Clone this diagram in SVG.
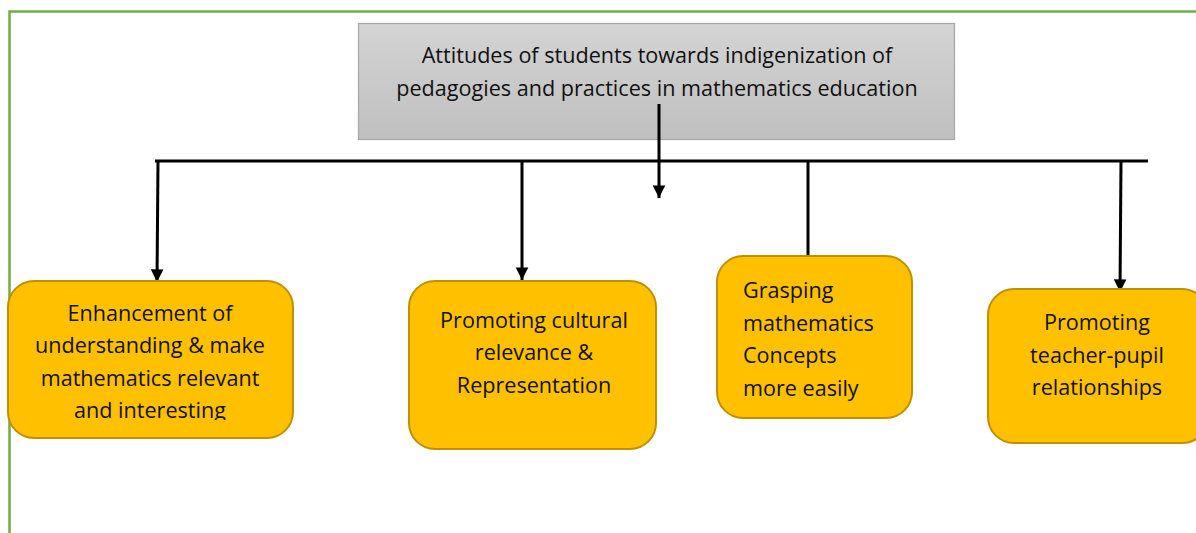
<svg xmlns="http://www.w3.org/2000/svg" width="1196" height="533" viewBox="0 0 1196 533">
  <defs>
    <linearGradient id="grayFill" x1="0" y1="0" x2="0" y2="1">
      <stop offset="0" stop-color="#D4D4D4"/>
      <stop offset="1" stop-color="#BFBFBF"/>
    </linearGradient>
    <marker id="arrow" viewBox="0 0 10 10" refX="10" refY="5" markerWidth="4.2" markerHeight="4.4" orient="auto" markerUnits="strokeWidth">
      <path d="M0,0 L10,5 L0,10 z" fill="#000"/>
    </marker>
    <clipPath id="clip1">
      <rect x="8" y="281" width="286" height="139"/>
    </clipPath>
  </defs>
  <style>
    .frame { fill: none; stroke: #70AD47; stroke-width: 2.5; }
    .box { fill: #FFC000; stroke: #BF9000; stroke-width: 2; }
    .title { fill: url(#grayFill); stroke: #A6A6A6; stroke-width: 1.2; }
    .t { font-family: "Open Sans", "Liberation Sans", sans-serif; font-size: 21.6px; fill: #111; }
    .c { text-anchor: middle; }
    .link { stroke: #000; stroke-width: 3; fill: none; }
  </style>

  <rect width="1196" height="533" fill="#fff"/>
  <path class="frame" d="M9.5,533 V11.5 H1196"/>

  <g id="title">
    <rect class="title" x="358.5" y="23.5" width="596" height="116"/>
    <text class="t c" x="657" y="63">Attitudes of students towards indigenization of</text>
    <text class="t c" x="657" y="96">pedagogies and practices in mathematics education</text>
  </g>

  <g id="connectors">
    <line class="link" x1="155" y1="161" x2="1148" y2="161"/>
    <line class="link" x1="158" y1="161" x2="157" y2="282" marker-end="url(#arrow)"/>
    <line class="link" x1="522" y1="161" x2="522" y2="280" marker-end="url(#arrow)"/>
    <line class="link" x1="659" y1="104" x2="659" y2="198" marker-end="url(#arrow)"/>
    <line class="link" x1="808" y1="161" x2="808" y2="256"/>
    <line class="link" x1="1121" y1="161" x2="1120" y2="292" marker-end="url(#arrow)"/>
  </g>

  <g id="node-understanding">
    <rect class="box" x="8" y="281" width="285" height="157" rx="26"/>
    <g clip-path="url(#clip1)">
      <text class="t c" x="150" y="321">Enhancement of</text>
      <text class="t c" x="150" y="353">understanding &amp; make</text>
      <text class="t c" x="150" y="386">mathematics relevant</text>
      <text class="t c" x="150" y="418">and interesting</text>
    </g>
  </g>

  <g id="node-cultural">
    <rect class="box" x="409" y="281" width="247" height="168" rx="26"/>
    <text class="t c" x="534" y="328">Promoting cultural</text>
    <text class="t c" x="534" y="360">relevance &amp;</text>
    <text class="t c" x="534" y="393">Representation</text>
  </g>

  <g id="node-grasping">
    <rect class="box" x="717" y="256" width="195" height="162" rx="26"/>
    <text class="t" x="743" y="298">Grasping</text>
    <text class="t" x="743" y="331">mathematics</text>
    <text class="t" x="743" y="363">Concepts</text>
    <text class="t" x="743" y="396">more easily</text>
  </g>

  <g id="node-teacher-pupil">
    <rect class="box" x="988" y="289" width="220" height="154" rx="26"/>
    <text class="t c" x="1097" y="330">Promoting</text>
    <text class="t c" x="1097" y="363">teacher-pupil</text>
    <text class="t c" x="1097" y="395">relationships</text>
  </g>
</svg>
